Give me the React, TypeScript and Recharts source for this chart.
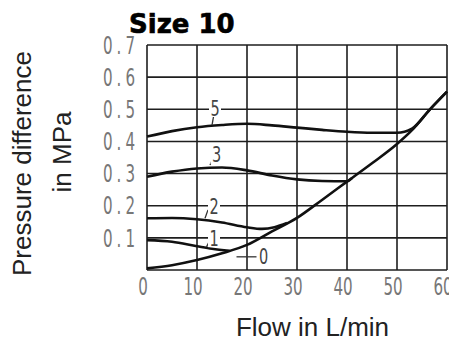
import React from 'react';
import {
  LineChart,
  Line,
  XAxis,
  YAxis,
  CartesianGrid,
  Label,
  ReferenceLine,
  ReferenceDot,
} from 'recharts';

// Axis ticks
const flowTicks = [0, 10, 20, 30, 40, 50, 60];
const pressureTicks = [0, 0.1, 0.2, 0.3, 0.4, 0.5, 0.6, 0.7];

// Characteristic curves: flow (L/min) vs. pressure difference (MPa)
const flow0 = [0, 5, 10, 15, 20, 25, 30, 35, 40, 45, 50, 53, 56.6, 60];
const dp0 = [0.005, 0.015, 0.031, 0.052, 0.078, 0.12, 0.162, 0.218, 0.275, 0.332, 0.392, 0.435, 0.5, 0.555];

const flow1 = [0, 5, 10, 13, 16.5];
const dp1 = [0.093, 0.088, 0.074, 0.066, 0.06];

const flow2 = [0, 5, 10, 15, 20, 23, 25.5, 28];
const dp2 = [0.161, 0.162, 0.158, 0.148, 0.133, 0.128, 0.133, 0.146];

const flow3 = [0, 5, 10, 15, 20, 25, 30, 35, 40, 41];
const dp3 = [0.29, 0.306, 0.316, 0.319, 0.31, 0.294, 0.282, 0.277, 0.276, 0.286];

const flow5 = [0, 5, 10, 15, 20, 25, 30, 35, 40, 45, 50, 53, 56.6, 60];
const dp5 = [0.415, 0.432, 0.444, 0.451, 0.455, 0.45, 0.443, 0.436, 0.43, 0.427, 0.427, 0.44, 0.5, 0.555];

// Curve tags and their leader lines (data units)
const curveNames = ['5', '3', '2', '1', '0'];
const tagFlow = [13.6, 13.9, 13.4, 13.4, 23.3];
const tagDp = [0.504, 0.358, 0.197, 0.099, 0.041];
const leaderFromFlow = [13.0, 12.6, 11.6, 11.9, 17.9];
const leaderFromDp = [0.451, 0.327, 0.161, 0.072, 0.041];
const leaderToFlow = [13.4, 13.2, 12.2, 12.4, 21.9];
const leaderToDp = [0.485, 0.348, 0.187, 0.087, 0.041];

const toPoints = (flow: number[], dp: number[]) => flow.map((f, i) => ({ flow: f, dp: dp[i] }));

const series = [
  { key: 'c0', data: toPoints(flow0, dp0) },
  { key: 'c1', data: toPoints(flow1, dp1) },
  { key: 'c2', data: toPoints(flow2, dp2) },
  { key: 'c3', data: toPoints(flow3, dp3) },
  { key: 'c5', data: toPoints(flow5, dp5) },
];

const narrowFont = "'Liberation Sans Narrow', 'DejaVu Sans Condensed', 'Arial Narrow', sans-serif";
const labelFont = "'Liberation Sans', Arial, sans-serif";

// Tall, condensed plotter-style digits
const FlowTick = (props: any) => {
  const { x, y, payload } = props;
  return (
    <g transform={`translate(${x - 4},${y})`}>
      <text
        transform="scale(0.8,1.15)"
        textAnchor="middle"
        dy="0.71em"
        fontFamily={narrowFont}
        fontSize={21}
        fill="#777"
      >
        {payload.value}
      </text>
    </g>
  );
};

const PressureTick = (props: any) => {
  const { x, y, payload } = props;
  if (payload.value === 0) return null;
  return (
    <g transform={`translate(${x},${y})`}>
      <text
        transform="scale(0.8,1.15)"
        textAnchor="end"
        dy="0.36em"
        fontFamily={narrowFont}
        fontSize={21}
        letterSpacing={5}
        fill="#777"
      >
        {Number(payload.value).toFixed(1)}
      </text>
    </g>
  );
};

const CurveTag = (props: any) => {
  const { cx, cy, name } = props;
  if (cx == null || cy == null) return null;
  return (
    <g>
      <rect x={cx - 6} y={cy - 9} width={12} height={18} fill="#fff" />
      <g transform={`translate(${cx},${cy})`}>
        <text
          transform="scale(0.85,1.1)"
          dy="0.36em"
          textAnchor="middle"
          fontFamily={narrowFont}
          fontSize={19}
          fill="#444"
        >
          {name}
        </text>
      </g>
    </g>
  );
};

export default function App() {
  return (
    <LineChart
      width={449}
      height={334}
      margin={{ top: 37, right: 10, bottom: 42, left: 79 }}
      style={{ background: '#fff' }}
    >
      <CartesianGrid stroke="#1e1e1e" strokeWidth={1.6} />
      <XAxis
        type="number"
        dataKey="flow"
        domain={[0, 60]}
        ticks={flowTicks}
        interval={0}
        height={30}
        axisLine={false}
        tickLine={false}
        tick={<FlowTick />}
      >
        <Label
          content={() => (
            <text
              x={304.5}
              y={328}
              textAnchor="middle"
              fontFamily={labelFont}
              fontSize={26}
              fill="#222"
            >
              Flow in L/min
            </text>
          )}
        />
      </XAxis>
      <YAxis
        type="number"
        domain={[0, 0.7]}
        ticks={pressureTicks}
        interval={0}
        width={60}
        axisLine={false}
        tickLine={false}
        tick={<PressureTick />}
      >
        <Label
          content={() => (
            <g fontFamily={labelFont} fontSize={26} fill="#222">
              <text transform="translate(23,155.5) rotate(-90)" textAnchor="middle">
                Pressure difference
              </text>
              <text transform="translate(63,144) rotate(-90)" textAnchor="middle">
                in MPa
              </text>
            </g>
          )}
        />
        <Label
          content={() => (
            <text
              x={121}
              y={25}
              fontFamily="'DejaVu Sans', sans-serif"
              fontWeight="bold"
              fontSize={26}
              fill="#000"
              stroke="#000"
              strokeWidth={0.6}
            >
              Size 10
            </text>
          )}
        />
      </YAxis>
      {series.map((s) => (
        <Line
          key={s.key}
          data={s.data}
          dataKey="dp"
          type="monotone"
          stroke="#111"
          strokeWidth={2.6}
          dot={false}
          activeDot={false}
          isAnimationActive={false}
        />
      ))}
      {curveNames.map((n, i) => (
        <ReferenceLine
          key={`lead-${n}`}
          segment={[
            { x: leaderFromFlow[i], y: leaderFromDp[i] },
            { x: leaderToFlow[i], y: leaderToDp[i] },
          ]}
          stroke="#333"
          strokeWidth={1.3}
        />
      ))}
      {curveNames.map((n, i) => (
        <ReferenceDot
          key={`tag-${n}`}
          x={tagFlow[i]}
          y={tagDp[i]}
          r={0}
          shape={(p: any) => <CurveTag {...p} name={n} />}
        />
      ))}
    </LineChart>
  );
}
